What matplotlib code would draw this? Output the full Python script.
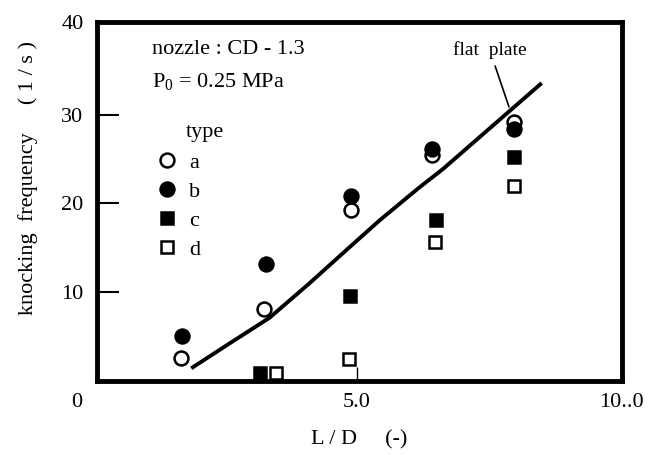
import matplotlib
matplotlib.use("Agg")
import matplotlib.pyplot as plt

# ── data ──────────────────────────────────────────────────────────────────────
a_x = [1.62, 3.21, 4.88, 6.45, 8.03]
a_y = [2.5, 8.05, 19.3, 25.5, 29.2]
b_x = [1.63, 3.24, 4.88, 6.45, 8.03]
b_y = [5.06, 13.2, 20.8, 26.2, 28.4]
c_x = [3.13, 4.87, 6.52, 8.03]
c_y = [0.9, 9.55, 18.1, 25.3]
d_x = [3.45, 4.84, 6.51, 8.03]
d_y = [0.8, 2.4, 15.7, 22.0]

# flat plate curve
fp_x = [1.81, 2.55, 3.32, 4.09, 4.80, 5.44, 6.18, 6.66, 8.56]
fp_y = [1.38, 4.2, 7.1, 11.0, 14.75, 18.1, 21.7, 23.9, 33.6]

plt.rcParams['font.family'] = ['Liberation Serif', 'DejaVu Serif']
plt.rcParams['mathtext.fontset'] = 'custom'
plt.rcParams['mathtext.rm'] = 'Liberation Serif'

FS = 16

fig = plt.figure(figsize=(6.53, 4.55), dpi=100)
ax = fig.add_axes([0.149, 0.1637, 0.803, 0.788])

ax.plot(fp_x, fp_y, color='black', lw=2.8, solid_capstyle='butt', zorder=2)

mk = dict(linestyle='none', color='black', mew=1.8, zorder=3)
ax.plot(a_x, a_y, marker='o', ms=10, mfc='white', label='a', **mk)
ax.plot(b_x, b_y, marker='o', ms=10, mfc='black', label='b', **mk)
ax.plot(c_x, c_y, marker='s', ms=9, mfc='black', label='c', **mk)
ax.plot(d_x, d_y, marker='s', ms=9, mfc='white', label='d', **mk)

ax.set_xlim(0, 10.1)
ax.set_ylim(0, 40.5)

ax.set_xticks([5, 10.1])
ax.set_xticklabels(['5.0', '10..0'])
ax.set_yticks([10, 20, 30, 40.5])
ax.set_yticklabels(['10', '20', '30', '40'])
ax.tick_params(axis='y', direction='in', length=16, width=1.5, pad=10, labelsize=FS)
ax.tick_params(axis='x', direction='in', length=10, width=1.0, pad=9, labelsize=FS)

for s in ax.spines.values():
    s.set_linewidth(3.5)

ax.annotate('0', xy=(0, 0), xycoords='axes fraction', xytext=(-15, -16),
            textcoords='offset points', ha='center', va='center', fontsize=FS)

ax.set_xlabel('L / D     (-)', fontsize=FS)
ax.xaxis.set_label_coords(0.5, -0.14)
ax.set_ylabel('knocking  frequency     ( 1 / s )', fontsize=FS)
ax.yaxis.set_label_coords(-0.113, 0.565)

ax.text(0.104, 0.922, 'nozzle : CD - 1.3', transform=ax.transAxes,
        ha='left', va='center', fontsize=FS)
ax.text(0.104, 0.833, r'P$_\mathrm{0}$ = 0.25 MPa', transform=ax.transAxes,
        ha='left', va='center', fontsize=FS)
ax.text(0.205, 0.693, 'type', transform=ax.transAxes,
        ha='center', va='center', fontsize=FS)

ax.legend(loc='upper left', bbox_to_anchor=(0.114, 0.637), frameon=False,
          borderpad=0, borderaxespad=0, handlelength=0.9, handletextpad=0.55,
          labelspacing=0.38, fontsize=FS)

ax.annotate('flat  plate', xy=(7.93, 30.9), xytext=(7.56, 37.3),
            ha='center', va='center', fontsize=14,
            arrowprops=dict(arrowstyle='-', lw=1.2, color='black',
                            shrinkA=3, shrinkB=0))

fig.savefig('out.png', dpi=100)
